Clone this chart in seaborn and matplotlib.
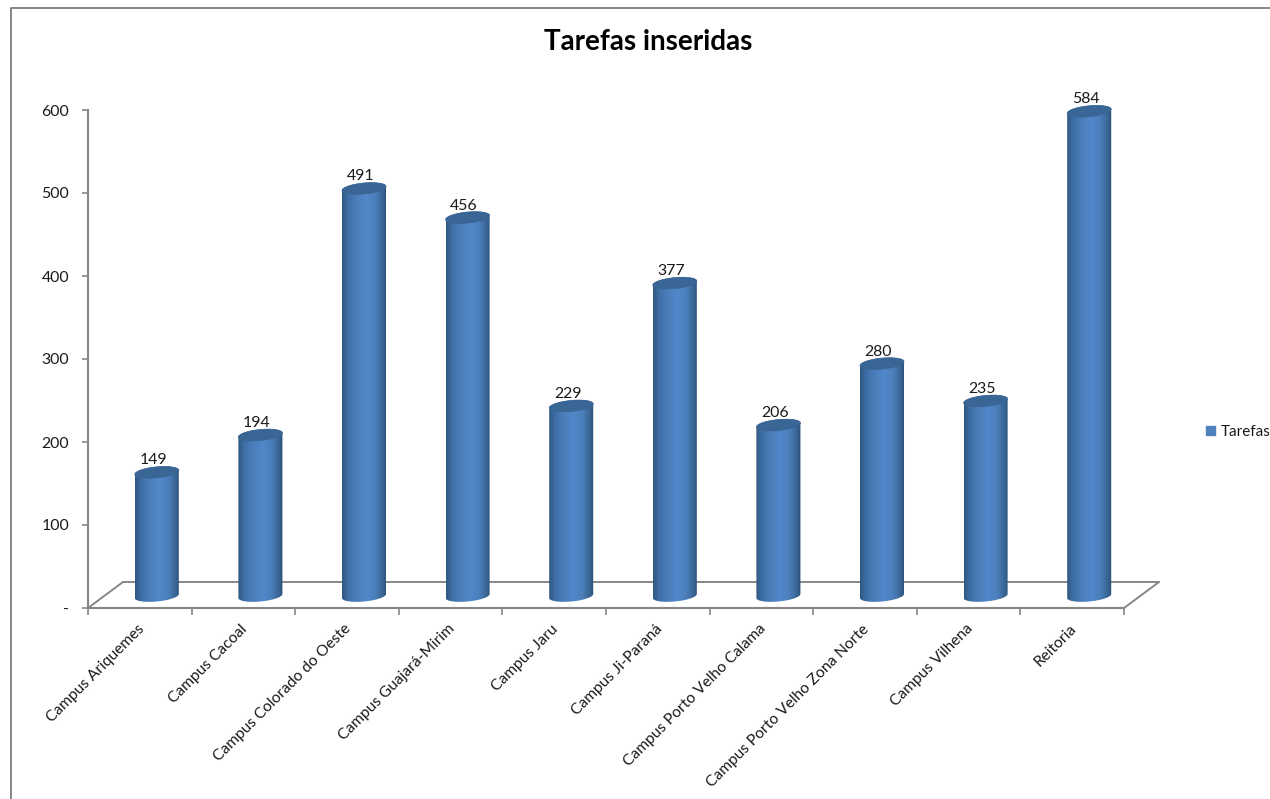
import numpy as np
import pandas as pd
import seaborn as sns
import matplotlib.pyplot as plt
from matplotlib.colors import LinearSegmentedColormap
from matplotlib.lines import Line2D
from matplotlib.patches import Patch, Polygon
from matplotlib.transforms import ScaledTranslation

campus = ['Campus Ariquemes', 'Campus Cacoal', 'Campus Colorado do Oeste',
          'Campus Guajará-Mirim', 'Campus Jaru', 'Campus Ji-Paraná',
          'Campus Porto Velho Calama', 'Campus Porto Velho Zona Norte',
          'Campus Vilhena', 'Reitoria']
tarefas = [149, 194, 491, 456, 229, 377, 206, 280, 235, 584]
yticks = [0, 100, 200, 300, 400, 500, 600]
ylabels = ['-', '100', '200', '300', '400', '500', '600']

W, H = 1270, 799
GREY = '#868686'
TXT = '#1a1a1a'

sns.set_theme(style='white')
plt.rcParams['font.family'] = ['Lato', 'DejaVu Sans']

df = pd.DataFrame({'campus': campus, 'Tarefas': tarefas})

fig = plt.figure(figsize=(W / 100, H / 100), dpi=100)
# axes box in pixels: x 88..1124, y 110..608
ax = fig.add_axes([88 / W, 1 - 608 / H, (1124 - 88) / W, (608 - 110) / H])
sns.barplot(data=df, x='campus', y='Tarefas', width=0.425, color='#4f81bd', ax=ax)
ax.set_xlim(-0.5, 9.5)
ax.set_ylim(0, 600)
ax.set_xlabel('')
ax.set_ylabel('')

px = 1 / 103.6   # one pixel in category units
py = 600 / 498   # one pixel in value units
dx, dy = 17 * px, 12 * py   # 3d offset of the columns

cmap = LinearSegmentedColormap.from_list('cyl', [
    (0, '#2f5880'), (0.12, '#3d6da3'), (0.3, '#4a7cb8'), (0.55, '#5288cb'),
    (0.75, '#4b7eba'), (0.9, '#3a6696'), (1, '#2c5078')])
grad = np.linspace(0, 1, 128).reshape(1, -1)
t = np.linspace(0, 2 * np.pi, 80)

for p, val in zip(list(ax.patches), tarefas):
    x0 = p.get_x() + dx
    w = p.get_width()
    cx = x0 + w / 2
    h = p.get_height()
    p.set_visible(False)
    a, b = w / 2, 5.5 * py
    lean = 2.0 * py   # ellipse rises towards the right

    # body = straight sides + lower half of the bottom ellipse
    tb = np.linspace(np.pi, 2 * np.pi, 40)
    bx = cx + a * np.cos(tb)
    by = dy + b * np.sin(tb) + lean * np.cos(tb)
    tt = np.linspace(0, np.pi, 40)
    tx = cx + a * np.cos(tt)
    ty = dy + h + b * np.sin(tt) + lean * np.cos(tt)
    body = Polygon(np.column_stack([np.r_[bx, tx], np.r_[by, ty]]), closed=True,
                   fc='none', ec='none', clip_on=False)
    ax.add_patch(body)
    im = ax.imshow(grad, extent=[x0, x0 + w, 0, dy + h + 2 * b], cmap=cmap,
                   aspect='auto', zorder=3)
    im.set_clip_box(fig.bbox)  # Reitoria's cap pokes out above the axes
    im.set_clip_path(body)

    ex = cx + a * np.cos(t)
    ey = dy + h + b * np.sin(t) + lean * np.cos(t)
    ax.add_patch(Polygon(np.column_stack([ex, ey]), closed=True, fc='#3a6696',
                         ec='#3a6696', lw=0.5, zorder=4, clip_on=False))

    ax.text(cx - 3.5 * px, dy + h + 5 * py, str(val), ha='center', va='bottom',
            fontsize=11.4, color=TXT, zorder=5)

ax.set_xlim(-0.5, 9.5)
ax.set_ylim(0, 600)

# floor
fx, fy = 35 * px, 26 * py
floor = dict(color=GREY, lw=1.4, clip_on=False, zorder=1)
ax.plot([-0.5, -0.5 + fx], [0, fy], **floor)
ax.plot([-0.5 + fx, 9.5 + fx], [fy, fy], **floor)
ax.plot([9.5, 9.5 + fx], [0, fy], **floor)

sns.despine(ax=ax, top=True, right=True)
for s in ('left', 'bottom'):
    ax.spines[s].set_color(GREY)
    ax.spines[s].set_linewidth(1.5)

ax.set_yticks(yticks)
ax.set_yticklabels(ylabels, fontsize=11.4, color=TXT)
ax.tick_params(axis='y', length=4.5, width=1.2, color=GREY, left=True, pad=9)
ax.set_xticks(np.arange(-0.5, 10), minor=True)
ax.tick_params(axis='x', which='minor', length=5, width=1.2, color=GREY, bottom=True)
ax.set_xticks(range(len(campus)))
ax.set_xticklabels(campus, rotation=45, ha='right', va='top', rotation_mode='anchor',
                   fontsize=11.2, color=TXT)
ax.tick_params(axis='x', which='major', length=0, pad=10)
shift = ScaledTranslation(-3 / 100, 0, fig.dpi_scale_trans)
for lab in ax.get_xticklabels():
    lab.set_transform(lab.get_transform() + shift)

fig.text(648 / W, 1 - 42 / H, 'Tarefas inseridas', ha='center', va='center',
         fontsize=20, fontweight='bold', color='black')

fig.legend(handles=[Patch(color='#4f81bd', label='Tarefas')], loc='center left',
           bbox_to_anchor=(1206 / W, 1 - 432 / H), frameon=False, fontsize=11,
           handlelength=0.6, handleheight=0.6, handletextpad=0.35, borderpad=0,
           borderaxespad=0, labelcolor=TXT)

# chart frame, only left and top edges fall inside the crop
fig.add_artist(Line2D([11 / W, 11 / W, 1], [0, 1 - 8 / H, 1 - 8 / H],
                      color=GREY, lw=1.4, transform=fig.transFigure))

fig.savefig('out.png', dpi=100, facecolor='white')
